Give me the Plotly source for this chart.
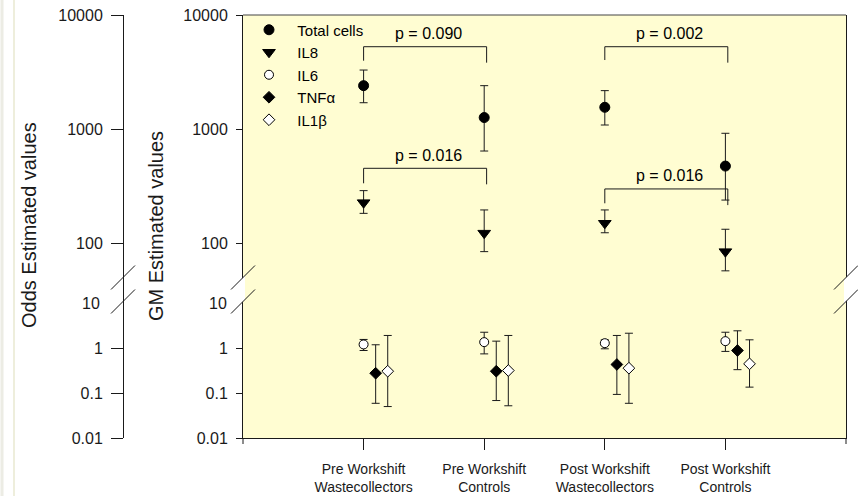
import math
import plotly.graph_objects as go

# ---- data -------------------------------------------------------------
groups = ["Pre Workshift<br>Wastecollectors", "Pre Workshift<br>Controls",
          "Post Workshift<br>Wastecollectors", "Post Workshift<br>Controls"]

total_cells = [2400, 1260, 1550, 473]
total_cells_hi = [3290, 2400, 2170, 917]
total_cells_lo = [1700, 641, 1084, 238]

il8 = [226, 122, 149, 84]
il8_hi = [288, 195, 195, 132]
il8_lo = [182, 84, 123, 57]

il6 = [1.20, 1.35, 1.28, 1.42]
il6_hi = [1.55, 2.24, 1.52, 2.24]
il6_lo = [0.88, 0.74, 0.96, 0.84]

tnfa = [0.275, 0.305, 0.43, 0.88]
tnfa_hi = [1.18, 1.42, 1.90, 2.41]
tnfa_lo = [0.059, 0.068, 0.093, 0.33]

il1b = [0.305, 0.316, 0.356, 0.445]
il1b_hi = [1.90, 1.90, 2.13, 1.52]
il1b_lo = [0.050, 0.052, 0.059, 0.135]

# significance brackets: compared groups, label, bracket height, leg ends
p_labels = ["p = 0.090", "p = 0.016", "p = 0.002", "p = 0.016"]
p_pairs = [(1, 2), (1, 2), (3, 4), (3, 4)]
p_level = [5270, 452, 5270, 298]
p_left_end = [3973, 334, 4027, 223]
p_right_end = [3818, 327, 3818, 215]

upper_ticks = [100, 1000, 10000]
lower_ticks = [0.01, 0.1, 1]

# ---- geometry ---------------------------------------------------------
W, H = 858, 496
ML, MR, MT, MB = 20, 12, 15, 58
PW, PH = W - ML - MR, H - MT - MB
BOTTOM = H - MB          # pixel row of the x axis
BREAK = 290              # pixel row where the two y segments meet
DEC_UP, DEC_LO = 114.0, 45.0   # pixels per decade in each segment


def px(x):
    return (x - ML) / PW


def py(y):
    return (BOTTOM - y) / PH


split = py(BREAK)
up_range = [4 - (BREAK - MT) / DEC_UP, 4]
lo_range = [-2, -2 + (BOTTOM - BREAK) / DEC_LO]

FONT = "Arial, Liberation Sans, sans-serif"
INK = "#1a1a1a"
BG = "#FFFDD2"
x_cat = [1, 2, 3, 4]


def series(name, x_off, vals, hi, lo, yaxis, symbol, size, fill):
    return go.Scatter(
        x=[c + x_off for c in x_cat], y=vals, name="\u00a0\u00a0" + name,
        mode="markers", yaxis=yaxis, xaxis="x",
        marker=dict(symbol=symbol, size=size, color=fill,
                    line=dict(color="black", width=1)),
        error_y=dict(type="data", symmetric=False,
                     array=[h - v for h, v in zip(hi, vals)],
                     arrayminus=[v - l for v, l in zip(vals, lo)],
                     color=INK, thickness=1, width=4),
        hoverinfo="skip",
    )


fig = go.Figure()

# significance brackets drawn on the upper segment
for (a, b), lvl, le, re in zip(p_pairs, p_level, p_left_end, p_right_end):
    fig.add_trace(go.Scatter(
        x=[a, a, b + 0.02, b + 0.02], y=[le, lvl, lvl, re],
        mode="lines", line=dict(color=INK, width=1),
        xaxis="x", yaxis="y", showlegend=False, hoverinfo="skip"))

fig.add_trace(series("Total cells", 0.0, total_cells, total_cells_hi, total_cells_lo,
                     "y", "circle", 10, "black"))
fig.add_trace(series("IL8", 0.0, il8, il8_hi, il8_lo, "y", "triangle-down", 11, "black"))
fig.add_trace(series("IL6", 0.0, il6, il6_hi, il6_lo, "y2", "circle", 9, "white"))
fig.add_trace(series("TNF\u03b1", 0.1, tnfa, tnfa_hi, tnfa_lo, "y2", "diamond", 9, "black"))
fig.add_trace(series("IL1\u03b2", 0.2, il1b, il1b_hi, il1b_lo, "y2", "diamond", 9, "white"))

tickfont = dict(family=FONT, size=16, color=INK)
common_y = dict(type="log", showgrid=False, zeroline=False, showline=True,
                linecolor=INK, linewidth=1, ticks="outside", tickcolor=INK,
                tickfont=tickfont, tickmode="array", automargin=False)

fig.update_layout(
    width=W, height=H, margin=dict(l=ML, r=MR, t=MT, b=MB, autoexpand=False),
    paper_bgcolor="white", plot_bgcolor=BG,
    showlegend=True,
    legend=dict(x=px(249), y=py(13.5), xanchor="left", yanchor="top",
                bgcolor="rgba(0,0,0,0)", borderwidth=0,
                font=dict(family=FONT, size=15, color="black"),
                itemclick=False, itemdoubleclick=False),
    xaxis=dict(domain=[px(243), 1], range=[0, 5], anchor="y2", automargin=False,
               showgrid=False, zeroline=False, showline=True, linecolor=INK,
               ticks="outside", ticklen=11, tickcolor=INK, ticklabelstandoff=7,
               tickmode="array", tickvals=x_cat, ticktext=groups,
               tickfont=dict(family=FONT, size=14, color=INK)),
    yaxis=dict(domain=[split, 1], range=up_range, anchor="x",
               tickvals=upper_ticks, ticktext=[str(t) for t in upper_ticks],
               ticklen=6, mirror=True, ticklabelstandoff=5, **common_y),
    yaxis2=dict(domain=[0, split], range=lo_range, anchor="x",
                tickvals=lower_ticks, ticktext=[str(t) for t in lower_ticks],
                ticklen=6, mirror=True, ticklabelstandoff=5, **common_y),
    yaxis3=dict(overlaying="y", anchor="free", position=px(123), side="left",
                range=up_range, tickvals=upper_ticks, ticklabelstandoff=5,
                ticktext=[str(t) for t in upper_ticks], ticklen=12, **common_y),
    yaxis4=dict(overlaying="y2", anchor="free", position=px(123), side="left",
                range=lo_range, tickvals=lower_ticks, ticklabelstandoff=5,
                ticktext=[str(t) for t in lower_ticks], ticklen=12, **common_y),
)

# invisible anchors so the odds axes are drawn
fig.add_trace(go.Scatter(x=[None], y=[None], yaxis="y3", showlegend=False, hoverinfo="skip"))
fig.add_trace(go.Scatter(x=[None], y=[None], yaxis="y4", showlegend=False, hoverinfo="skip"))

annotations = []
# p-value labels above the brackets
for (a, b), lvl, txt in zip(p_pairs, p_level, p_labels):
    annotations.append(dict(x=(a + b) / 2 + 0.04, y=math.log10(lvl), xref="x", yref="y",
                            text=txt, showarrow=False, yanchor="middle", yshift=13,
                            font=dict(family=FONT, size=16, color="black")))
# "10" labels at the top of the lower segments
for ax_x, shift in [(123, -21), (243, -14)]:
    annotations.append(dict(x=px(ax_x), y=1, xref="paper", yref="y2", text="10",
                            showarrow=False, xanchor="right", yanchor="middle",
                            xshift=shift, font=tickfont))
# axis titles
for title, cx, cy in [("Odds Estimated values", 29, 225), ("GM Estimated values", 156, 226)]:
    annotations.append(dict(x=px(cx), y=py(cy), xref="paper", yref="paper", text=title,
                            textangle=-90, showarrow=False, xanchor="center",
                            yanchor="middle",
                            font=dict(family=FONT, size=20, color=INK)))
fig.update_layout(annotations=annotations)

shapes = []


def pline(x0, y0, x1, y1, color=INK, width=1):
    return dict(type="line", xref="paper", yref="paper",
                x0=px(x0), y0=py(y0), x1=px(x1), y1=py(y1),
                line=dict(color=color, width=width), layer="above")


# top frame of the plotting area
shapes.append(pline(243, MT, 846, MT, color="#444444"))
# axis lines extending slightly below the x axis
shapes.append(pline(243, BOTTOM, 243, BOTTOM + 6))
shapes.append(pline(846, BOTTOM, 846, BOTTOM + 6))
# broken-axis gaps and slashes
for cx, fill_gap in [(123, False), (243, True), (846, True)]:
    if fill_gap:
        path = "M {} {} L {} {} L {} {} L {} {} Z".format(
            px(cx - 2), py(277.5 + 2), px(cx + 2), py(277.5 - 2),
            px(cx + 2), py(301.5 - 2), px(cx - 2), py(301.5 + 2))
        shapes.append(dict(type="path", xref="paper", yref="paper", path=path,
                           fillcolor="white", line=dict(width=0), layer="above"))
    shapes.append(pline(cx - 12, 289.5, cx + 12, 265.5))
    shapes.append(pline(cx - 12, 313.5, cx + 12, 289.5))
# light page frame at the far left
shapes.append(dict(type="line", xref="paper", yref="paper",
                   x0=px(2), x1=px(2), y0=-0.2, y1=1.1,
                   line=dict(color="#ecece4", width=3), layer="below"))
shapes.append(dict(type="line", xref="paper", yref="paper",
                   x0=px(14), x1=px(14), y0=-0.2, y1=1.1,
                   line=dict(color="#eeeedc", width=2), layer="below"))
fig.update_layout(shapes=shapes)

fig.write_html("out.html")
